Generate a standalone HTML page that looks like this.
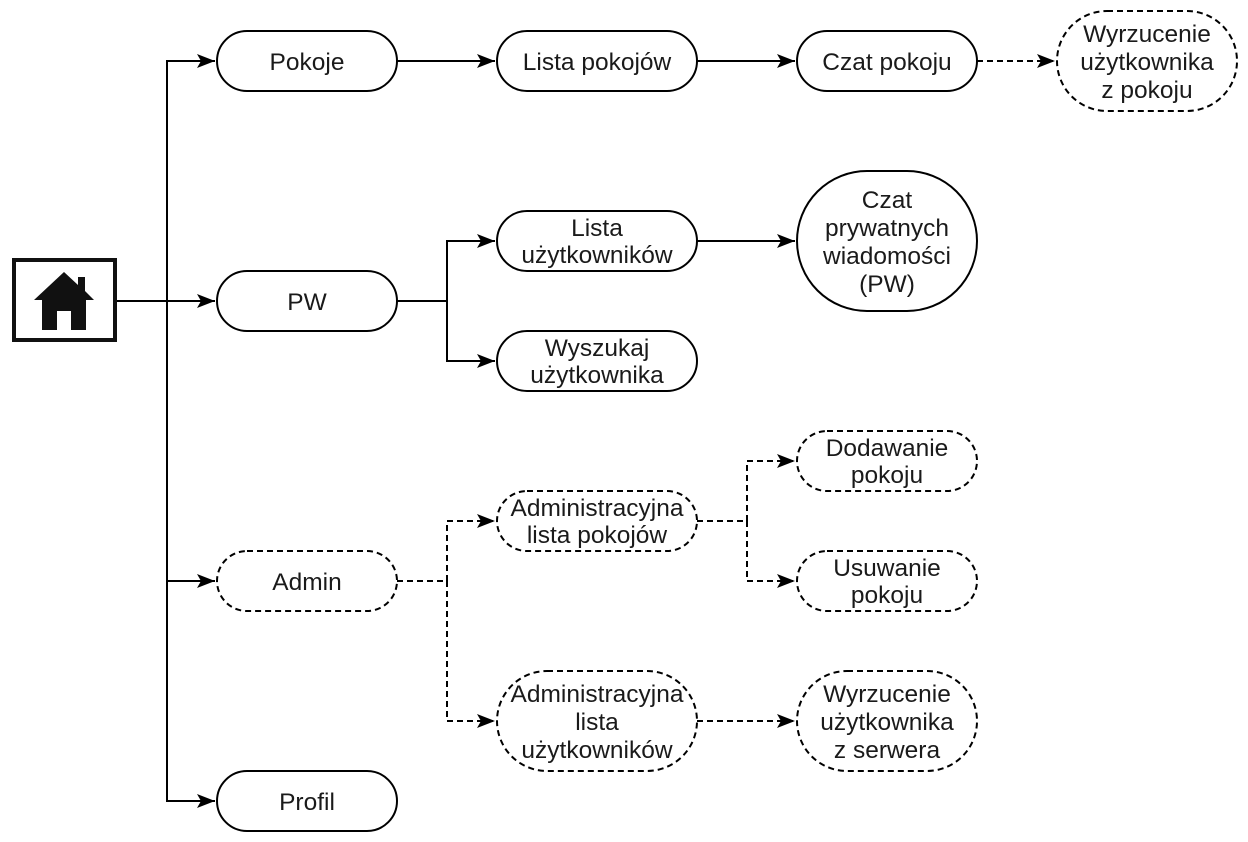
<!DOCTYPE html>
<html><head><meta charset="utf-8"><style>
html,body{margin:0;padding:0;background:#fff}
svg{display:block}
text{font-family:"Liberation Sans",Arial,sans-serif;font-size:24.5px;fill:#1a1a1a;text-anchor:middle}
</style></head><body>
<svg width="1248" height="842" viewBox="0 0 1248 842" xmlns="http://www.w3.org/2000/svg">
<defs>
<marker id="a" markerWidth="20" markerHeight="16" refX="19" refY="8" orient="auto" markerUnits="userSpaceOnUse">
<path d="M1,1 L19,8 L1,15 L5,8 Z" fill="#000"/>
</marker>
</defs>
<g fill="none" stroke="#000" stroke-width="2">
<path d="M117,301 H215" marker-end="url(#a)"/>
<path d="M167,301 V61 H215" marker-end="url(#a)"/>
<path d="M167,301 V801 H215" marker-end="url(#a)"/>
<path d="M167,581 H215" marker-end="url(#a)"/>
<path d="M397,61 H495" marker-end="url(#a)"/>
<path d="M697,61 H795" marker-end="url(#a)"/>
<path d="M397,301 H447 V241 H495" marker-end="url(#a)"/>
<path d="M447,301 V361 H495" marker-end="url(#a)"/>
<path d="M697,241 H795" marker-end="url(#a)"/>
<g stroke-dasharray="6 4">
<path d="M977,61 H1055" marker-end="url(#a)"/>
<path d="M397,581 H447 V521 H495" marker-end="url(#a)"/>
<path d="M447,581 V721 H495" marker-end="url(#a)"/>
<path d="M697,521 H747 V461 H795" marker-end="url(#a)"/>
<path d="M747,521 V581 H795" marker-end="url(#a)"/>
<path d="M697,721 H795" marker-end="url(#a)"/>
</g>
<rect x="217" y="31" width="180" height="60" rx="30" fill="#fff"/>
<rect x="497" y="31" width="200" height="60" rx="30" fill="#fff"/>
<rect x="797" y="31" width="180" height="60" rx="30" fill="#fff"/>
<rect x="217" y="271" width="180" height="60" rx="30" fill="#fff"/>
<rect x="497" y="211" width="200" height="60" rx="30" fill="#fff"/>
<rect x="497" y="331" width="200" height="60" rx="30" fill="#fff"/>
<rect x="797" y="171" width="180" height="140" rx="70" fill="#fff"/>
<rect x="217" y="771" width="180" height="60" rx="30" fill="#fff"/>
<g stroke-dasharray="6 4">
<rect x="1057" y="11" width="180" height="100" rx="50" fill="#fff"/>
<rect x="217" y="551" width="180" height="60" rx="30" fill="#fff"/>
<rect x="497" y="491" width="200" height="60" rx="30" fill="#fff"/>
<rect x="797" y="431" width="180" height="60" rx="30" fill="#fff"/>
<rect x="797" y="551" width="180" height="60" rx="30" fill="#fff"/>
<rect x="497" y="671" width="200" height="100" rx="50" fill="#fff"/>
<rect x="797" y="671" width="180" height="100" rx="50" fill="#fff"/>
</g>
</g>
<rect x="14" y="260" width="101" height="80" fill="#fff" stroke="#111" stroke-width="4"/>
<path d="M64,272 L34,300 L42,300 L42,330 L57,330 L57,311 L71,311 L71,330 L86,330 L86,300 L94,300 L85,291 L85,277 L78,277 L78,285 Z" fill="#111"/>
<text x="307" y="70">Pokoje</text>
<text x="597" y="70">Lista pokojów</text>
<text x="887" y="70">Czat pokoju</text>
<text x="1147" y="42">Wyrzucenie</text>
<text x="1147" y="70">użytkownika</text>
<text x="1147" y="98">z pokoju</text>
<text x="307" y="310">PW</text>
<text x="597" y="236">Lista</text>
<text x="597" y="263">użytkowników</text>
<text x="597" y="356">Wyszukaj</text>
<text x="597" y="383">użytkownika</text>
<text x="887" y="208">Czat</text>
<text x="887" y="236">prywatnych</text>
<text x="887" y="264">wiadomości</text>
<text x="887" y="292">(PW)</text>
<text x="307" y="590">Admin</text>
<text x="597" y="516">Administracyjna</text>
<text x="597" y="543">lista pokojów</text>
<text x="887" y="456">Dodawanie</text>
<text x="887" y="483">pokoju</text>
<text x="887" y="576">Usuwanie</text>
<text x="887" y="603">pokoju</text>
<text x="597" y="702">Administracyjna</text>
<text x="597" y="730">lista</text>
<text x="597" y="758">użytkowników</text>
<text x="887" y="702">Wyrzucenie</text>
<text x="887" y="730">użytkownika</text>
<text x="887" y="758">z serwera</text>
<text x="307" y="810">Profil</text>
</svg>
</body></html>
